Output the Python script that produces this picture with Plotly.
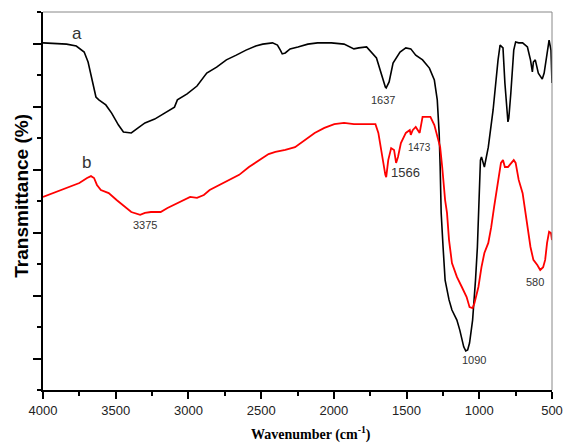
import plotly.graph_objects as go

# Sample a (black)
wn_a = [4000,3838,3771,3717,3690,3663,3636,3616,3568,3528,3481,3447,3413,3393,3346,3299,3232,3164,3096,3076,
        3009,2941,2874,2806,2739,2671,2604,2537,2489,2422,2388,2368,2355,2334,2301,2247,2179,2112,2017,1930,
        1882,1862,1829,1775,1707,1674,1646,1640,1620,1593,1545,1505,1471,1437,1390,1343,1309,1289,1276,1269,
        1262,1249,1235,1208,1188,1154,1134,1107,1093,1080,1067,1046,1033,1026,1013,1006,999,992,985,965,
        938,905,871,857,837,824,803,797,783,763,750,729,702,669,648,635,628,615,594,567,
        554,534,520,507,500]
t_a = [11.02,10.98,10.92,10.73,10.41,9.84,9.30,9.21,9.05,8.79,8.41,8.19,8.16,8.16,8.32,8.48,8.60,8.79,8.98,9.21,
       9.40,9.65,10.06,10.25,10.48,10.63,10.79,10.92,10.98,11.02,10.95,10.79,10.67,10.70,10.83,10.89,10.98,11.02,11.02,10.98,
       10.89,10.83,10.86,10.89,10.54,10.00,9.62,9.59,9.78,10.38,10.73,10.86,10.83,10.63,10.48,10.22,9.84,9.21,8.16,7.08,
       5.62,4.54,3.49,2.86,2.54,2.22,1.90,1.37,1.24,1.27,1.49,2.22,2.95,3.49,4.54,5.62,6.67,7.30,7.40,7.08,
       7.71,8.89,10.48,10.95,10.86,9.75,8.51,8.63,9.43,10.79,11.05,11.02,11.02,10.89,10.48,10.10,10.41,10.48,10.06,9.87,
       10.06,10.79,11.11,10.79,9.75]

# Sample b (red)
wn_b = [4000,3933,3838,3750,3697,3670,3649,3629,3602,3548,3494,3434,3393,3332,3299,3258,3191,3144,3076,3029,
        2988,2941,2894,2854,2786,2719,2651,2584,2516,2449,2402,2334,2267,2199,2132,2065,1997,1930,1862,1795,
        1714,1694,1673,1646,1640,1626,1606,1586,1572,1559,1539,1505,1478,1471,1458,1437,1410,1390,1377,1336,
        1309,1289,1269,1255,1242,1235,1222,1208,1188,1154,1120,1087,1067,1046,1033,1006,985,965,938,918,
        898,871,851,837,824,803,783,763,750,729,702,682,648,628,601,581,561,547,534,520,
        507,500]
t_b = [6.13,6.25,6.41,6.57,6.73,6.79,6.73,6.51,6.35,6.25,6.03,5.81,5.65,5.56,5.62,5.65,5.65,5.78,5.94,6.03,
       6.13,6.10,6.19,6.35,6.51,6.67,6.83,7.08,7.30,7.49,7.56,7.62,7.71,7.94,8.16,8.32,8.44,8.48,8.44,8.44,
       8.44,8.16,7.52,6.83,6.76,7.30,7.68,7.62,7.21,7.40,7.84,8.16,8.25,8.10,8.25,8.35,8.16,8.67,8.67,8.67,
       8.41,8.03,7.71,7.08,6.35,6.03,5.62,4.76,4.03,3.59,3.27,2.95,2.63,2.60,2.76,3.27,3.90,4.35,4.67,5.17,
       5.81,6.67,7.21,7.30,7.08,7.08,7.21,7.30,7.21,6.67,6.25,5.62,4.54,4.13,3.97,3.81,3.90,4.13,4.67,5.02,
       4.98,4.76]

x_ticks = [4000, 3500, 3000, 2500, 2000, 1500, 1000, 500]

# annotations: text, x, y, size
peak_labels = [("a", 3764, 11.33, 17), ("b", 3703, 7.21, 17),
               ("1637", 1660, 9.21, 11), ("1566", 1505, 6.89, 13), ("1473", 1410, 7.71, 10),
               ("3375", 3299, 5.24, 11), ("1090", 1039, 0.95, 11), ("580", 615, 3.43, 11)]

fig = go.Figure()
fig.add_trace(go.Scatter(x=wn_a, y=t_a, mode="lines", line=dict(color="black", width=1.6), showlegend=False))
fig.add_trace(go.Scatter(x=wn_b, y=t_b, mode="lines", line=dict(color="#ff0000", width=1.8), showlegend=False))

for txt, x, y, s in peak_labels:
    fig.add_annotation(x=x, y=y, text=txt, showarrow=False,
                       font=dict(family="Liberation Sans, Arial", size=s, color="#333"),
                       xanchor="center", yanchor="middle")

fig.add_annotation(xref="paper", yref="paper", x=0.526, y=-0.114, text="<b>Wavenumber (cm<sup>-1</sup>)</b>",
                   showarrow=False, font=dict(family="Liberation Serif, Times New Roman", size=14, color="black"),
                   xanchor="center", yanchor="middle")
fig.add_annotation(xref="paper", yref="paper", x=-0.044, y=0.513, text="<b>Transmittance (%)</b>",
                   showarrow=False, textangle=-90,
                   font=dict(family="Liberation Sans, Arial", size=19, color="black"),
                   xanchor="center", yanchor="middle")

# top and right frame lines
fig.add_shape(type="line", xref="paper", yref="paper", x0=0, x1=1, y0=1, y1=1, line=dict(color="#888", width=1))
fig.add_shape(type="line", xref="paper", yref="paper", x0=1, x1=1, y0=0, y1=1, line=dict(color="#888", width=1))

fig.update_xaxes(range=[4000, 500], tickmode="array", tickvals=x_ticks, ticktext=[str(v) for v in x_ticks],
                 ticks="outside", ticklen=7, tickwidth=1.5, tickcolor="black",
                 minor=dict(dtick=250, tick0=500, ticks="outside", ticklen=4, tickwidth=1.5, tickcolor="black"),
                 showline=True, linecolor="black", linewidth=2, showgrid=False, zeroline=False,
                 tickfont=dict(family="Liberation Sans, Arial", size=13, color="#222"))
fig.update_yaxes(range=[0, 12], tickmode="linear", tick0=1, dtick=2, showticklabels=False,
                 ticks="outside", ticklen=8, tickwidth=1.5, tickcolor="black",
                 minor=dict(dtick=1, tick0=0, ticks="outside", ticklen=4, tickwidth=1.5, tickcolor="black"),
                 showline=True, linecolor="black", linewidth=2, showgrid=False, zeroline=False)

fig.update_layout(width=575, height=447, margin=dict(l=43, r=13, t=12, b=57),
                  plot_bgcolor="white", paper_bgcolor="white")

fig.write_html("out.html")
